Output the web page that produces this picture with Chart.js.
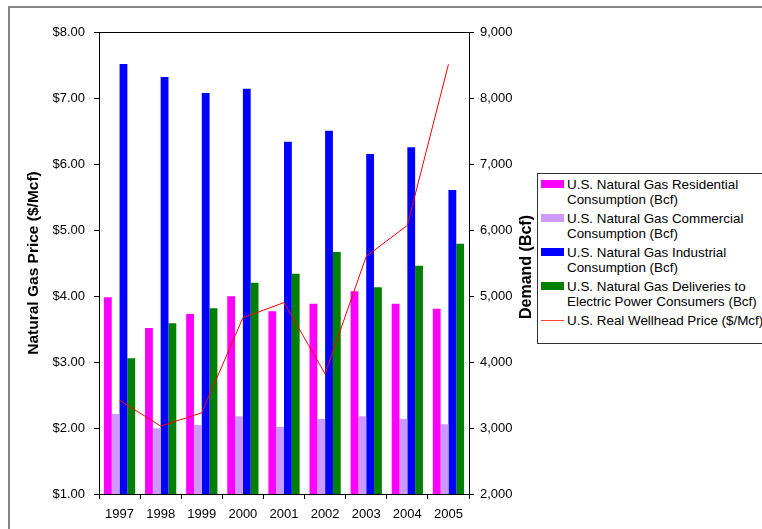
<!DOCTYPE html>
<html>
<head>
<meta charset="utf-8">
<script src="https://cdn.jsdelivr.net/npm/chart.js@4"></script>
<style>
html, body { margin: 0; padding: 0; background: #fff; overflow: hidden; width: 762px; height: 529px; }
#wrap { position: relative; width: 762px; height: 529px; overflow: hidden; }
#frame { position: absolute; left: 8px; top: 6px; width: 800px; height: 600px; border: 2px solid #868686; }
#gasChart { position: absolute; left: 0; top: 0; }
#legend { position: absolute; left: 537px; top: 173px; width: 260px; height: 171px; box-sizing: border-box;
  border: 1px solid #333; background: #fff; padding-top: 3px;
  font: 13.4px "Liberation Sans", Arial, sans-serif; line-height: 15px; color: #000; }
.item { position: relative; padding-left: 29px; margin-bottom: 4px; white-space: nowrap; }
.sw { position: absolute; left: 3px; top: 3px; width: 23px; height: 8px; }
.sw.line { top: 7px; height: 1px; opacity: 0.75; }
</style>
</head>
<body>
<div id="wrap">
  <div id="frame"></div>
  <canvas id="gasChart" width="762" height="529"></canvas>
  <div id="legend"></div>
</div>
<script>
const years = ['1997', '1998', '1999', '2000', '2001', '2002', '2003', '2004', '2005'];

// demand, Bcf (right axis)
const residential = [4980, 4515, 4727, 4995, 4768, 4884, 5071, 4884, 4808];
const commercial  = [3212, 2995, 3045, 3177, 3015, 3136, 3177, 3136, 3056];
const industrial  = [8515, 8318, 8076, 8141, 7338, 7505, 7152, 7253, 6606];
const electric    = [4056, 4586, 4813, 5202, 5338, 5667, 5131, 5459, 5793];

// price, $/Mcf (left axis)
const wellheadPrice = [2.42, 2.03, 2.23, 3.67, 3.90, 2.82, 4.60, 5.07, 7.51];

const seriesNames = [
    ['U.S. Natural Gas Residential', 'Consumption (Bcf)'],
    ['U.S. Natural Gas Commercial', 'Consumption (Bcf)'],
    ['U.S. Natural Gas Industrial', 'Consumption (Bcf)'],
    ['U.S. Natural Gas Deliveries to', 'Electric Power Consumers (Bcf)'],
    ['U.S. Real Wellhead Price ($/Mcf)']
];
const seriesColors = ['#ff00ff', '#cc99ff', '#0000ff', '#008000', '#ff0000'];

const leftTitle = 'Natural Gas Price ($/Mcf)';
const rightTitle = 'Demand (Bcf)';

Chart.defaults.font.family = '"Liberation Sans", Arial, sans-serif';
Chart.defaults.color = '#000';

function barSet(i, values) {
    return {
        type: 'bar',
        label: seriesNames[i].join(' '),
        data: values,
        backgroundColor: seriesColors[i],
        yAxisID: 'y1',
        order: 1,
        barPercentage: 1,
        categoryPercentage: 0.76
    };
}

// top edge of plot area + right axis title (reads bottom to top)
const extras = {
    id: 'extras',
    afterDraw(chart) {
        const ctx = chart.ctx;
        const a = chart.chartArea;
        ctx.save();
        ctx.strokeStyle = '#000';
        ctx.lineWidth = 1;
        ctx.beginPath();
        ctx.moveTo(a.left, Math.round(a.top) + 0.5);
        ctx.lineTo(a.right, Math.round(a.top) + 0.5);
        ctx.stroke();
        ctx.translate(chart.scales.y1.right - 10, (a.top + a.bottom) / 2 + 4);
        ctx.rotate(-Math.PI / 2);
        ctx.font = 'bold 16px "Liberation Sans", Arial, sans-serif';
        ctx.fillStyle = '#000';
        ctx.textAlign = 'center';
        ctx.textBaseline = 'middle';
        ctx.fillText(rightTitle, 0, 0);
        ctx.restore();
    }
};

const tickFont = { size: 13 };
const gridOpts = { drawOnChartArea: false, color: '#000', tickLength: 5 };

const chart = new Chart(document.getElementById('gasChart').getContext('2d'), {
    data: {
        labels: years,
        datasets: [
            {
                type: 'line',
                label: seriesNames[4].join(' '),
                data: wellheadPrice,
                yAxisID: 'y',
                borderColor: seriesColors[4],
                borderWidth: 1,
                pointRadius: 0,
                tension: 0,
                order: 0
            },
            barSet(0, residential),
            barSet(1, commercial),
            barSet(2, industrial),
            barSet(3, electric)
        ]
    },
    options: {
        responsive: false,
        animation: false,
        layout: { padding: { left: 9, right: 225, top: 32, bottom: 0 } },
        plugins: { legend: { display: false }, tooltip: { enabled: false } },
        scales: {
            x: {
                grid: Object.assign({ offset: true }, gridOpts),
                border: { color: '#000' },
                ticks: { font: tickFont, padding: 8, maxRotation: 0 },
                afterFit(s) { s.height = 35; }
            },
            y: {
                position: 'left',
                min: 1, max: 8,
                ticks: { stepSize: 1, font: tickFont, padding: 9, callback: v => '$' + v.toFixed(2) },
                grid: gridOpts,
                border: { color: '#000' },
                title: { display: true, text: leftTitle, font: { size: 15.5, weight: 'bold' }, padding: { top: 15, bottom: 0 } },
                afterFit(s) { s.width = 90; }
            },
            y1: {
                position: 'right',
                min: 2000, max: 9000,
                ticks: { stepSize: 1000, font: tickFont, padding: 6, callback: v => v.toLocaleString('en-US') },
                grid: gridOpts,
                border: { color: '#000' },
                afterFit(s) { s.width = 68; }
            }
        }
    },
    plugins: [extras]
});

// legend in the order of the original: bars first, then the price line
const legend = document.getElementById('legend');
[0, 1, 2, 3, 4].forEach(i => {
    const item = document.createElement('div');
    item.className = 'item';
    const sw = document.createElement('span');
    sw.className = i === 4 ? 'sw line' : 'sw';
    sw.style.background = seriesColors[i];
    item.appendChild(sw);
    seriesNames[i].forEach((line, k) => {
        if (k) item.appendChild(document.createElement('br'));
        item.appendChild(document.createTextNode(line));
    });
    legend.appendChild(item);
});
</script>
</body>
</html>
